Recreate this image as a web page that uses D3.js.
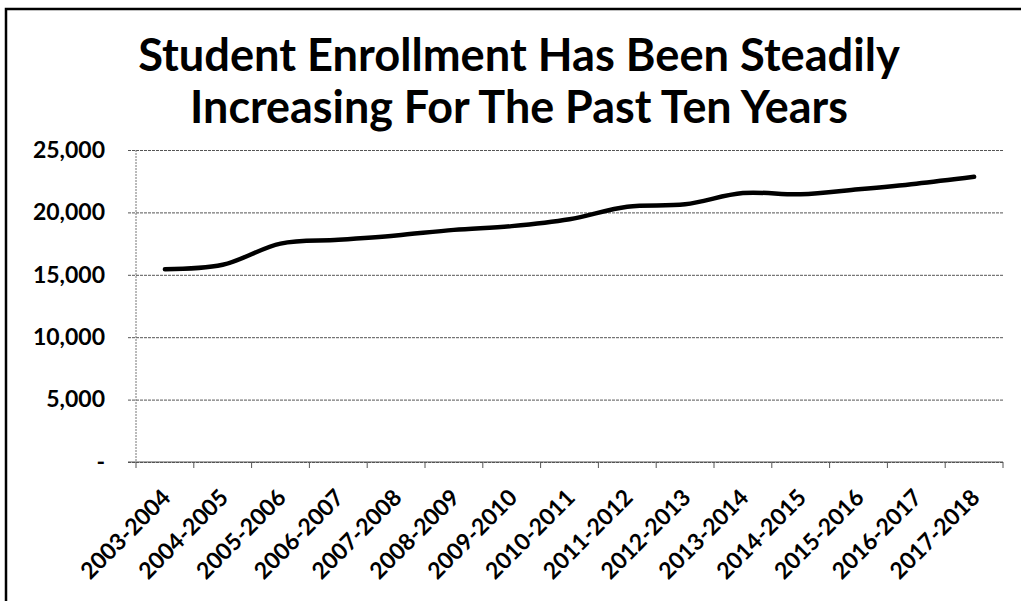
<!DOCTYPE html>
<html>
<head>
<meta charset="utf-8">
<script src="https://cdn.jsdelivr.net/npm/d3@7"></script>
<style>
  html, body { margin: 0; padding: 0; background: #fff; }
  svg { display: block; }
  text { font-family: Lato, "Open Sans", sans-serif; font-weight: 700; fill: #000; }
</style>
</head>
<body>
<div id="chart"></div>
<script>
// Data
const years = [
  "2003-2004", "2004-2005", "2005-2006", "2006-2007", "2007-2008",
  "2008-2009", "2009-2010", "2010-2011", "2011-2012", "2012-2013",
  "2013-2014", "2014-2015", "2015-2016", "2016-2017", "2017-2018",
];
const enrollment = [
  15450, 15800, 17500, 17800, 18150,
  18600, 18900, 19450, 20450, 20650,
  21550, 21450, 21850, 22300, 22850,
];
const yTicks = [0, 5000, 10000, 15000, 20000, 25000];
const titleLines = [
  "Student Enrollment Has Been Steadily",
  "Increasing For The Past Ten Years",
];

const width = 1021;
const height = 601;
const plot = { left: 136, right: 1003, top: 150, bottom: 462 };

const svg = d3
  .select("#chart")
  .append("svg")
  .attr("width", width)
  .attr("height", height);

svg.append("rect").attr("width", width).attr("height", height).attr("fill", "#fff");

// Frame edges (only top and left show in the scan)
svg
  .append("path")
  .attr("d", `M6,${height} V9 H${width}`)
  .attr("fill", "none")
  .attr("stroke", "#000")
  .attr("stroke-width", 2.5);

// Title, fitted to the width it takes in the reference
const titleWidths = [762, 658];
const titleBase = [71, 123];
const title = svg
  .selectAll(".title")
  .data(titleLines)
  .enter()
  .append("text")
  .attr("class", "title")
  .attr("x", 519)
  .attr("y", (d, i) => titleBase[i])
  .attr("text-anchor", "middle")
  .style("font-size", "40px")
  .text((d) => d);
title.each(function (d, i) {
  const w = this.getComputedTextLength();
  d3.select(this).style("font-size", (40 * titleWidths[i]) / w + "px");
});

const x = d3
  .scaleBand()
  .domain(years)
  .range([plot.left, plot.right])
  .padding(0);

const y = d3
  .scaleLinear()
  .domain([0, 25000])
  .range([plot.bottom, plot.top]);

// Y axis with gridlines
const yAxis = svg
  .append("g")
  .attr("transform", `translate(${plot.left - 8}, 0)`)
  .call(
    d3
      .axisLeft(y)
      .tickValues(yTicks)
      .tickSize(-(plot.right - plot.left + 8))
      .tickSizeOuter(0)
      .tickPadding(23)
      .tickFormat((d) => (d === 0 ? "-" : d3.format(",")(d)))
  );
yAxis.select(".domain").remove();
yAxis
  .selectAll(".tick line")
  .attr("stroke", "#555")
  .attr("stroke-width", 1)
  .attr("stroke-dasharray", "3,1");
yAxis.selectAll(".tick text").style("font-size", "23px");

// Vertical axis line
svg
  .append("line")
  .attr("x1", plot.left)
  .attr("x2", plot.left)
  .attr("y1", plot.top)
  .attr("y2", plot.bottom)
  .attr("stroke", "#777")
  .attr("stroke-dasharray", "2,1");

// X axis: ticks between categories
const xBase = svg.append("g");
xBase
  .append("line")
  .attr("x1", plot.left - 8)
  .attr("x2", plot.right)
  .attr("y1", plot.bottom)
  .attr("y2", plot.bottom)
  .attr("stroke", "#555")
  .attr("stroke-width", 1.2);
xBase
  .selectAll(".xtick")
  .data(years.concat(["end"]))
  .enter()
  .append("line")
  .attr("class", "xtick")
  .attr("x1", (d) => (d === "end" ? x.range()[1] : x(d)))
  .attr("x2", (d) => (d === "end" ? x.range()[1] : x(d)))
  .attr("y1", plot.bottom)
  .attr("y2", plot.bottom + 6)
  .attr("stroke", "#555");

// X labels, rotated
svg
  .selectAll(".xlabel")
  .data(years)
  .enter()
  .append("text")
  .attr("class", "xlabel")
  .attr(
    "transform",
    (d) => `translate(${x(d) + x.bandwidth() / 2 + 7}, 499) rotate(-45)`
  )
  .attr("text-anchor", "end")
  .style("font-size", "23px")
  .text((d) => d);

// Enrollment line
const line = d3
  .line()
  .x((d, i) => x(years[i]) + x.bandwidth() / 2)
  .y((d) => y(d))
  .curve(d3.curveCatmullRom.alpha(0.5));

svg
  .append("path")
  .datum(enrollment)
  .attr("fill", "none")
  .attr("stroke", "#000")
  .attr("stroke-width", 4.5)
  .attr("stroke-linecap", "round")
  .attr("d", line);
</script>
</body>
</html>
